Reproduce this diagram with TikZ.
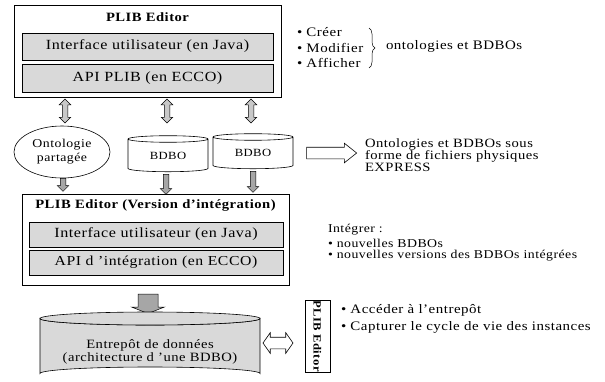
\documentclass[tikz,border=0pt]{standalone}
\usepackage{fontspec}
\setmainfont{Liberation Serif}[FakeStretch=1.15,LetterSpace=4]
\usetikzlibrary{shapes.geometric,shapes.arrows,decorations.pathreplacing,calc}
\definecolor{boxgray}{HTML}{D9D9D9}
\definecolor{arrgray}{HTML}{A6A6A6}
\definecolor{dblgray}{HTML}{C8C8C8}
\newcommand\fsz[1]{\fontsize{#1}{#1}\selectfont}
\tikzset{
  outerbox/.style={draw, line width=0.8pt, fill=white},
  innerbox/.style={draw, line width=0.6pt, fill=boxgray},
  titletxt/.style={font=\fsz{12.7}\bfseries},
  dblv/.style={draw, line width=0.5pt, fill=dblgray, double arrow, rotate=90, inner xsep=0pt, inner ysep=2.5pt,
    minimum width=11pt, double arrow head extend=3pt, double arrow head indent=0pt},
  downarr/.style={draw, line width=0.5pt, fill=arrgray, single arrow, rotate=-90, inner xsep=0pt, inner ysep=2.5pt,
    minimum width=11pt, single arrow head extend=3pt, single arrow head indent=0pt},
  cyl/.style={draw, line width=0.6pt, cylinder, shape border rotate=90, aspect=0.18,
    cylinder uses custom fill, cylinder body fill=white, cylinder end fill=white},
  bultxt/.style={anchor=west, align=left},
}
\begin{document}
\begin{tikzpicture}[x=1pt,y=-1pt, every node/.append style={inner sep=0pt, outer sep=0pt}]
\useasboundingbox (0,0) rectangle (605,381);

% top editor
\node[outerbox, minimum width=267pt, minimum height=92pt] (ed1) at (147.5,51) {};
\node[titletxt] (ed1t) at (147.5,17) {PLIB Editor};
\node[innerbox, minimum width=251pt, minimum height=27pt, font=\fsz{14}] (ui1) at (147.5,46.5) {Interface utilisateur (en Java)};
\node[innerbox, minimum width=251pt, minimum height=28pt, font=\fsz{14}] (api1) at (147.5,78) {API PLIB (en ECCO)};

% bullets top right
\node[bultxt, font=\fsz{13}] (cr) at (297,32) {• Créer};
\node[bultxt, font=\fsz{13}] (mo) at (297,48) {• Modifier};
\node[bultxt, font=\fsz{13}] (af) at (297,63) {• Afficher};
\draw[decorate, decoration={brace, amplitude=6pt}, line width=0.5pt] (369,28) -- (369,68);
\node[bultxt, font=\fsz{13}] (ont) at (386,46) {ontologies et BDBOs};

% shared ontology and BDBOs
\node[draw, line width=0.6pt, ellipse, minimum width=96pt, minimum height=52pt, align=center, font=\fsz{12}] (os) at (62,152) {Ontologie\\[2pt]partagée};
\node[cyl, minimum width=80pt, minimum height=36pt, font=\fsz{11}] (b1) at (168,155.5) {BDBO};
\node[cyl, minimum width=80pt, minimum height=35pt, font=\fsz{11}] (b2) at (253,153) {BDBO};

% double arrows
\node[dblv, minimum height=24pt] (d1) at (65,111) {};
\node[dblv, minimum height=24pt] (d2) at (167,111) {};
\node[dblv, minimum height=24pt] (d3) at (251,111) {};

% export arrow
\node[draw, line width=0.6pt, fill=white, single arrow, inner xsep=0pt, inner ysep=5.5pt, minimum width=19pt, minimum height=50pt,
  single arrow head extend=4pt, single arrow head indent=0pt, single arrow tip angle=77] (ex) at (328,153) {};
\node[bultxt, font=\fsz{12.7}, align=left] (ext) at (365,155) {Ontologies et BDBOs sous\\[-1pt]forme de fichiers physiques\\[-1pt]EXPRESS};

% down arrows
\node[downarr, minimum height=13pt] (s1) at (63,183.5) {};
\node[downarr, minimum height=20pt] (s2) at (166,183) {};
\node[downarr, minimum height=21pt] (s3) at (253,180.5) {};

% integration editor
\node[outerbox, minimum width=267pt, minimum height=91pt] (ed2) at (155.5,239.5) {};
\node[titletxt] (ed2t) at (155.5,205) {PLIB Editor (Version d’intégration)};
\node[innerbox, minimum width=254pt, minimum height=25pt, font=\fsz{14}] (ui2) at (156,234.5) {Interface utilisateur (en Java)};
\node[innerbox, minimum width=254pt, minimum height=25pt, font=\fsz{13.7}] (api2) at (156,262.5) {API d ’intégration (en ECCO)};

\node[bultxt, font=\fsz{12}] (int) at (328,230) {Intégrer :};
\node[bultxt, font=\fsz{12}] (nb) at (328,243) {• nouvelles BDBOs};
\node[bultxt, font=\fsz{12}] (nv) at (328,256) {• nouvelles versions des BDBOs intégrées};

% big arrow (drawn directly)
\coordinate (bat) at (148,294);
\draw[line width=0.5pt, fill=arrgray] ($(bat)+(-10,0)$) -- ($(bat)+(10,0)$) -- ($(bat)+(10,13)$) -- ($(bat)+(16.5,13)$)
  -- ($(bat)+(0,19.5)$) -- ($(bat)+(-16.5,13)$) -- ($(bat)+(-10,13)$) -- cycle;

% warehouse cylinder (drawn directly)
\coordinate (wtop) at (150,318.5);
\coordinate (wbot) at (150,373.5);
\draw[line width=0.6pt, fill=boxgray] ($(wtop)+(-110,0)$) -- ($(wbot)+(-110,0)$) arc[start angle=180, end angle=360, x radius=110pt, y radius=-6.5pt]
  -- ($(wtop)+(110,0)$) arc[start angle=0, end angle=180, x radius=110pt, y radius=-6.5pt] -- cycle;
\draw[line width=0.6pt, fill=boxgray] (wtop) ellipse[x radius=110pt, y radius=6.5pt];
\node[font=\fsz{12.7}, align=center] (wht) at (150,352) {Entrepôt de données\\[1pt](architecture d ’une BDBO)};

% double horizontal arrow
\node[draw, line width=0.6pt, fill=white, double arrow, inner xsep=0pt, inner ysep=5.5pt, minimum width=20pt, minimum height=30pt,
  double arrow head extend=4.5pt, double arrow head indent=0pt, double arrow tip angle=110] (ha) at (278,343) {};

% rotated editor
\node[draw, line width=0.6pt, fill=white, rotate=-90, minimum width=72pt, minimum height=25pt, font=\fsz{11}\bfseries] (ed3) at (317.5,336) {PLIB Editor};
\node[bultxt, font=\fsz{13}] (acc) at (341,310) {• Accéder à l’entrepôt};
\node[bultxt, font=\fsz{13}] (cap) at (341,327) {• Capturer le cycle de vie des instances};
\end{tikzpicture}
\end{document}
